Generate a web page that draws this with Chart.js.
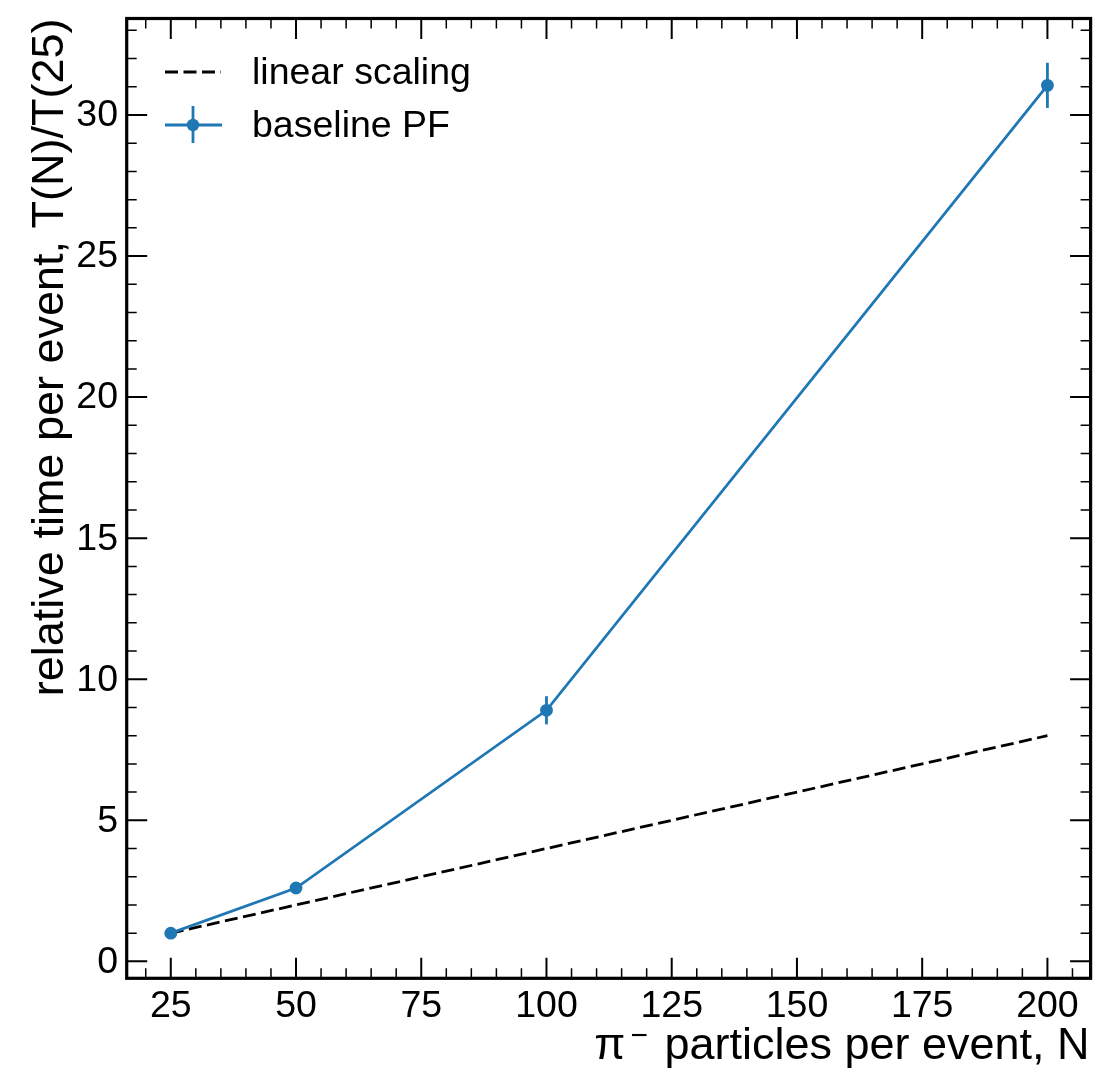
<!DOCTYPE html>
<html>
<head>
<meta charset="utf-8">
<script src="https://cdn.jsdelivr.net/npm/chart.js@4.4.1/dist/chart.umd.min.js"></script>
<style>
html,body{margin:0;padding:0;background:#fff;}
#wrap{width:1097px;height:1071px;}
</style>
</head>
<body>
<div id="wrap"><canvas id="c" width="1097" height="1071"></canvas></div>
<script>
// ---- data ----
const particlesN = [25, 50, 100, 200];
const baselinePF = [1.0, 2.6, 8.9, 31.05];
const baselinePFErr = [0.0, 0.1, 0.5, 0.8];
const linearScaling = [1, 2, 4, 8];
const xTickValues = [25, 50, 75, 100, 125, 150, 175, 200];
const yTickValues = [0, 5, 10, 15, 20, 25, 30];
const legendLabels = ['linear scaling', 'baseline PF'];
const xTitle = ' particles per event, N';
const yTitle = 'relative time per event, T(N)/T(25)';

const BLUE = '#1f77b4';
const FONT = '"Liberation Sans", Arial, Helvetica, sans-serif';

const overlay = {
  id: 'overlay',
  beforeDatasetsDraw(chart) {
    const ctx = chart.ctx, xs = chart.scales.x, ys = chart.scales.y;
    ctx.save();
    ctx.strokeStyle = BLUE; ctx.lineWidth = 2.8;
    particlesN.forEach((n, i) => {
      const e = baselinePFErr[i];
      if (!e) return;
      const px = xs.getPixelForValue(n);
      ctx.beginPath();
      ctx.moveTo(px, ys.getPixelForValue(baselinePF[i] - e));
      ctx.lineTo(px, ys.getPixelForValue(baselinePF[i] + e));
      ctx.stroke();
    });
    ctx.restore();
  },
  afterDraw(chart) {
    const ctx = chart.ctx, xs = chart.scales.x, ys = chart.scales.y;
    const a = chart.chartArea;
    ctx.save();
    // ticks (inward, all sides)
    ctx.strokeStyle = '#000';
    const majL = 20.5, minL = 10;
    function hTick(v, len, w) {
      const px = xs.getPixelForValue(v);
      if (px < a.left || px > a.right) return;
      ctx.lineWidth = w;
      ctx.beginPath();
      ctx.moveTo(px, a.bottom); ctx.lineTo(px, a.bottom - len);
      ctx.moveTo(px, a.top); ctx.lineTo(px, a.top + len);
      ctx.stroke();
    }
    function vTick(v, len, w) {
      const py = ys.getPixelForValue(v);
      if (py < a.top || py > a.bottom) return;
      ctx.lineWidth = w;
      ctx.beginPath();
      ctx.moveTo(a.left, py); ctx.lineTo(a.left + len, py);
      ctx.moveTo(a.right, py); ctx.lineTo(a.right - len, py);
      ctx.stroke();
    }
    for (let v = Math.ceil(xs.min / 5) * 5; v <= xs.max; v += 5) {
      if (v % 25 !== 0) hTick(v, minL, 1.5);
    }
    xTickValues.forEach(v => hTick(v, majL, 2));
    for (let v = Math.ceil(ys.min); v <= ys.max; v += 1) {
      if (v % 5 !== 0) vTick(v, minL, 1.5);
    }
    yTickValues.forEach(v => vTick(v, majL, 2));

    // frame
    ctx.lineWidth = 3.2;
    ctx.strokeRect(a.left, a.top, a.right - a.left, a.bottom - a.top);

    // tick labels
    ctx.fillStyle = '#000';
    ctx.font = '37.5px ' + FONT;
    ctx.textAlign = 'center'; ctx.textBaseline = 'alphabetic';
    xTickValues.forEach(v => ctx.fillText(String(v), xs.getPixelForValue(v), 1016.5));
    ctx.textAlign = 'right'; ctx.textBaseline = 'middle';
    yTickValues.forEach(v => ctx.fillText(String(v), 118, ys.getPixelForValue(v) + 1));

    // x title (right aligned)
    ctx.font = '45px ' + FONT;
    ctx.textAlign = 'right'; ctx.textBaseline = 'alphabetic';
    const xb = 1059;
    ctx.fillText(xTitle, a.right - 1, xb);
    const restW = ctx.measureText(xTitle).width;
    let x0 = a.right - 1 - restW;
    ctx.font = '30px ' + FONT;
    ctx.textAlign = 'right';
    ctx.fillText('\u2212', x0 - 4, xb - 14);
    const mW = ctx.measureText('\u2212').width;
    ctx.font = '45px ' + FONT;
    ctx.fillText('\u03c0', x0 - 4 - mW - 5, xb);

    // y title (rotated, aligned at top)
    ctx.save();
    ctx.translate(63, a.top);
    ctx.rotate(-Math.PI / 2);
    ctx.font = '45px ' + FONT;
    ctx.textAlign = 'right'; ctx.textBaseline = 'alphabetic';
    ctx.fillText(yTitle, 0, 0);
    ctx.restore();

    // legend
    ctx.font = '37.5px ' + FONT;
    ctx.textAlign = 'left'; ctx.textBaseline = 'alphabetic';
    ctx.fillText(legendLabels[0], 252, 83.5);
    ctx.fillText(legendLabels[1], 252, 137);
    // dashed handle
    ctx.strokeStyle = '#000'; ctx.lineWidth = 2.8;
    ctx.setLineDash([13, 5.5]);
    ctx.beginPath(); ctx.moveTo(165, 72); ctx.lineTo(221, 72); ctx.stroke();
    ctx.setLineDash([]);
    // errorbar handle
    ctx.strokeStyle = BLUE; ctx.lineWidth = 2.8;
    ctx.beginPath(); ctx.moveTo(165, 125); ctx.lineTo(222, 125); ctx.stroke();
    ctx.beginPath(); ctx.moveTo(193, 106); ctx.lineTo(193, 143); ctx.stroke();
    ctx.fillStyle = BLUE;
    ctx.beginPath(); ctx.arc(193, 125, 6.2, 0, Math.PI * 2); ctx.fill();
    ctx.restore();
  }
};

new Chart(document.getElementById('c'), {
  type: 'line',
  data: {
    datasets: [
      {
        label: legendLabels[1],
        data: particlesN.map((n, i) => ({ x: n, y: baselinePF[i] })),
        borderColor: BLUE, backgroundColor: BLUE,
        borderWidth: 2.8, pointRadius: 6.4, pointBorderWidth: 0,
        pointBackgroundColor: BLUE, tension: 0, fill: false
      },
      {
        label: legendLabels[0],
        data: particlesN.map((n, i) => ({ x: n, y: linearScaling[i] })),
        borderColor: '#000', borderWidth: 2.8, borderDash: [13, 5.5],
        pointRadius: 0, tension: 0, fill: false
      }
    ]
  },
  options: {
    responsive: false,
    animation: false,
    devicePixelRatio: 1,
    layout: { padding: { left: 126.7, right: 3.7, top: 18.5, bottom: 92.7 } },
    plugins: { legend: { display: false }, tooltip: { enabled: false } },
    scales: {
      x: { type: 'linear', display: false, min: 16.2, max: 208.62 },
      y: { type: 'linear', display: false, min: -0.6, max: 33.42 }
    }
  },
  plugins: [overlay]
});
</script>
</body>
</html>
